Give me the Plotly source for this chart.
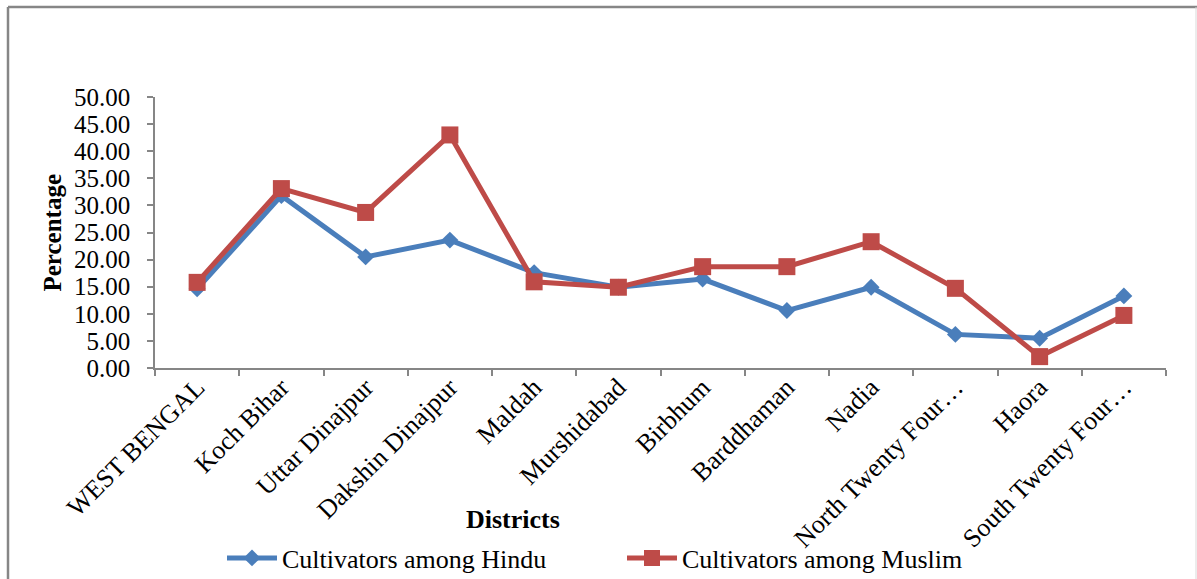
import plotly.graph_objects as go

# District labels as printed on the category axis
districts = [
    "WEST BENGAL", "Koch Bihar", "Uttar Dinajpur", "Dakshin Dinajpur",
    "Maldah", "Murshidabad", "Birbhum", "Barddhaman", "Nadia",
    "North Twenty Four…", "Haora", "South Twenty Four…",
]

# Share of cultivators (%) in each community
hindu = [14.6, 31.8, 20.5, 23.6, 17.6, 14.9, 16.4, 10.6, 14.9, 6.2, 5.5, 13.3]
muslim = [15.8, 33.1, 28.7, 43.0, 15.9, 14.9, 18.7, 18.7, 23.3, 14.7, 2.1, 9.7]

y_ticks = [0, 5, 10, 15, 20, 25, 30, 35, 40, 45, 50]

BLUE = "#4A7EBB"
RED = "#BE4B48"
GREY = "#868686"
FONT = "Liberation Serif"

W, H = 1197, 579
L, R, T, B = 155, 31, 97, 211
pw, ph = W - L - R, H - T - B


def px(x):
    return (x - L) / pw


def py(y):
    return (H - B - y) / ph


fig = go.Figure()
fig.add_trace(go.Scatter(
    x=districts, y=hindu, name="Cultivators among Hindu",
    mode="lines+markers",
    line=dict(color=BLUE, width=5),
    marker=dict(symbol="diamond", size=13, color=BLUE),
))
fig.add_trace(go.Scatter(
    x=districts, y=muslim, name="Cultivators among Muslim",
    mode="lines+markers",
    line=dict(color=RED, width=5),
    marker=dict(symbol="square", size=17, color=RED),
))

fig.update_layout(
    width=W, height=H,
    margin=dict(l=L, r=R, t=T, b=B, autoexpand=False),
    paper_bgcolor="white", plot_bgcolor="white",
    font=dict(family=FONT, size=25, color="black"),
    showlegend=True,
    legend=dict(
        orientation="h", x=px(222), y=py(558), xanchor="left", yanchor="middle",
        entrywidth=335, entrywidthmode="pixels",
        font=dict(family=FONT, size=26), itemwidth=50,
        bgcolor="rgba(0,0,0,0)",
    ),
    xaxis=dict(
        type="category", range=[-0.5, len(districts) - 0.5],
        tickangle=-45, tickson="boundaries",
        automargin=False,
        showline=True, linecolor=GREY, linewidth=1.5,
        ticks="outside", ticklen=6, tickcolor=GREY, tickwidth=1.5,
        showgrid=False, zeroline=False, ticklabelstandoff=-8,
        tickfont=dict(family=FONT, size=26),
    ),
    yaxis=dict(
        range=[0, 50], tickvals=y_ticks, tickformat=".2f",
        automargin=False,
        showline=True, linecolor=GREY, linewidth=1.5,
        ticks="outside", ticklen=6, tickcolor=GREY, tickwidth=1.5,
        showgrid=False, zeroline=False, ticklabelstandoff=12,
        tickfont=dict(family=FONT, size=25),
    ),
    annotations=[
        dict(text="<b>Percentage</b>", xref="paper", yref="paper",
             x=px(52), y=0.5, textangle=-90, showarrow=False,
             xanchor="center", yanchor="middle",
             font=dict(family=FONT, size=25)),
        dict(text="<b>Districts</b>", xref="paper", yref="paper",
             x=px(513), y=py(519), showarrow=False,
             xanchor="center", yanchor="middle",
             font=dict(family=FONT, size=26)),
    ],
    shapes=[
        # chart frame
        dict(type="line", xref="paper", yref="paper",
             x0=px(8), x1=px(8), y0=py(7), y1=py(600),
             line=dict(color=GREY, width=2.5)),
        dict(type="line", xref="paper", yref="paper",
             x0=px(8), x1=px(1200), y0=py(7), y1=py(7),
             line=dict(color=GREY, width=2.5)),
        dict(type="line", xref="paper", yref="paper",
             x0=px(1196), x1=px(1196), y0=py(7), y1=py(600),
             line=dict(color="#D9D9D9", width=1)),
    ],
)

fig.write_html("out.html")
